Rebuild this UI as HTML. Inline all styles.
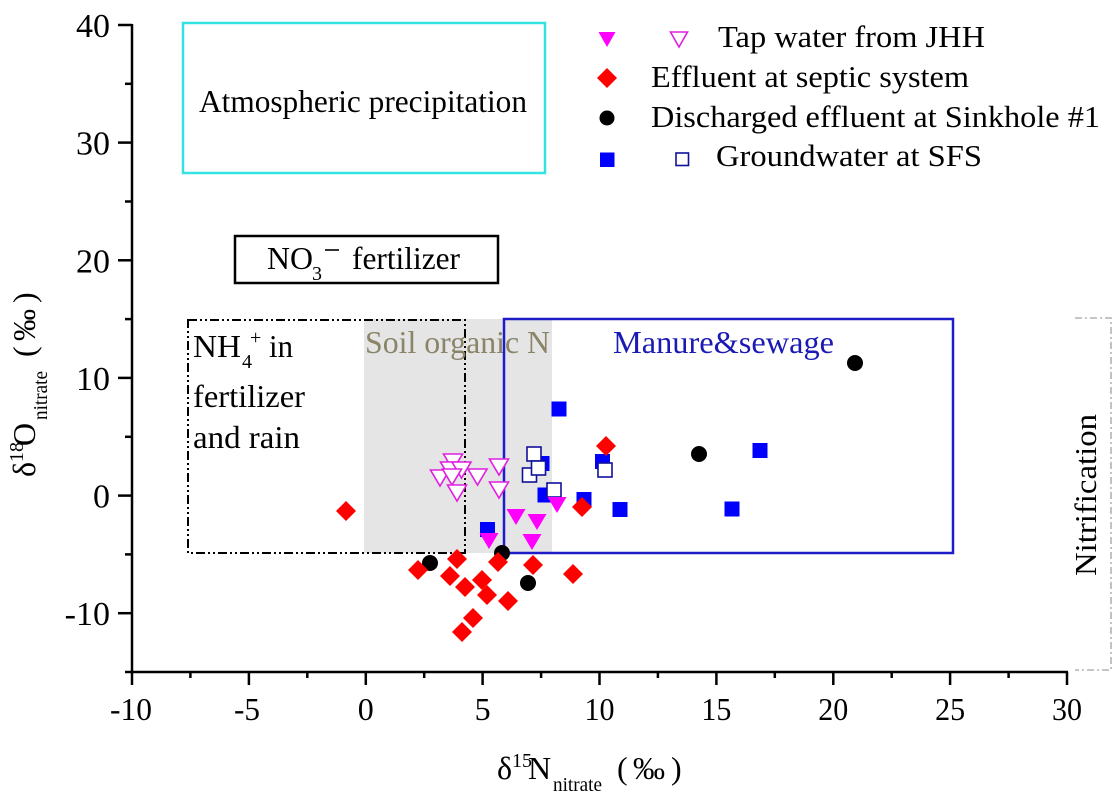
<!DOCTYPE html>
<html>
<head>
<meta charset="utf-8">
<style>
html,body{margin:0;padding:0;background:#fff;}
svg{display:block;}
text{font-family:"Liberation Serif","Noto Serif CJK SC",serif;fill:#000;}
</style>
</head>
<body>
<svg width="1119" height="798" viewBox="0 0 1119 798" xmlns="http://www.w3.org/2000/svg">
<rect x="0" y="0" width="1119" height="798" fill="#fff"/>

<!-- Soil organic N gray region -->
<rect x="364" y="319" width="188" height="234" fill="#e5e5e5"/>

<!-- Atmospheric precipitation box -->
<rect x="183" y="23" width="362" height="150" fill="none" stroke="#33e3e3" stroke-width="2.5"/>
<text x="199" y="112" font-size="32" textLength="328" lengthAdjust="spacingAndGlyphs">Atmospheric precipitation</text>

<!-- NO3- fertilizer box -->
<rect x="235" y="236" width="263" height="47" fill="none" stroke="#000" stroke-width="2.5"/>
<text x="267" y="269" font-size="32" textLength="46" lengthAdjust="spacingAndGlyphs">NO</text>
<text x="312" y="280" font-size="20">3</text>
<line x1="325" y1="250" x2="339" y2="250" stroke="#000" stroke-width="1.6"/>
<text x="352" y="269" font-size="32" textLength="108" lengthAdjust="spacingAndGlyphs">fertilizer</text>

<!-- NH4+ box -->
<rect x="188" y="320" width="277" height="233" fill="none" stroke="#000" stroke-width="2" stroke-dasharray="9 3 2 3 2 3"/>
<text x="193" y="357" font-size="32" textLength="48" lengthAdjust="spacingAndGlyphs">NH</text>
<text x="242" y="368" font-size="20">4</text>
<text x="250" y="344" font-size="20">+</text>
<text x="269" y="357" font-size="32" textLength="24" lengthAdjust="spacingAndGlyphs">in</text>
<text x="193" y="407" font-size="32" textLength="112" lengthAdjust="spacingAndGlyphs">fertilizer</text>
<text x="193" y="448" font-size="32" textLength="107" lengthAdjust="spacingAndGlyphs">and rain</text>

<!-- Soil organic N text -->
<text x="365" y="353" font-size="32" style="fill:#8a8468" textLength="185" lengthAdjust="spacingAndGlyphs">Soil organic N</text>

<!-- Manure & sewage box -->
<rect x="504" y="319" width="449" height="234" fill="none" stroke="#1c1cc8" stroke-width="2.5"/>
<text x="613" y="353" font-size="32" style="fill:#1a1ab4" textLength="221" lengthAdjust="spacingAndGlyphs">Manure&amp;sewage</text>

<!-- Nitrification box -->
<path d="M1075,318 H1111 V670 H1075" fill="none" stroke="#b3b3b3" stroke-width="1.6" stroke-dasharray="7 3 2 3"/>
<g transform="translate(1096,576) rotate(-90)">
<text x="0" y="0" font-size="31" textLength="162" lengthAdjust="spacingAndGlyphs">Nitrification</text>
</g>

<!-- Axes -->
<line x1="132" y1="24" x2="132" y2="673" stroke="#000" stroke-width="2.5"/>
<line x1="131" y1="672" x2="1068" y2="672" stroke="#000" stroke-width="2.5"/>
<g stroke="#000" stroke-width="2.5">
<line x1="118" y1="25" x2="132" y2="25"/>
<line x1="118" y1="142.6" x2="132" y2="142.6"/>
<line x1="118" y1="260.3" x2="132" y2="260.3"/>
<line x1="118" y1="377.9" x2="132" y2="377.9"/>
<line x1="118" y1="495.6" x2="132" y2="495.6"/>
<line x1="118" y1="613.2" x2="132" y2="613.2"/>
<line x1="125" y1="83.8" x2="132" y2="83.8"/>
<line x1="125" y1="201.5" x2="132" y2="201.5"/>
<line x1="125" y1="319.1" x2="132" y2="319.1"/>
<line x1="125" y1="436.8" x2="132" y2="436.8"/>
<line x1="125" y1="554.4" x2="132" y2="554.4"/>
<line x1="125" y1="672" x2="132" y2="672"/>
<line x1="132" y1="672" x2="132" y2="685"/>
<line x1="248.9" y1="672" x2="248.9" y2="685"/>
<line x1="365.8" y1="672" x2="365.8" y2="685"/>
<line x1="482.6" y1="672" x2="482.6" y2="685"/>
<line x1="599.5" y1="672" x2="599.5" y2="685"/>
<line x1="716.4" y1="672" x2="716.4" y2="685"/>
<line x1="833.3" y1="672" x2="833.3" y2="685"/>
<line x1="950.1" y1="672" x2="950.1" y2="685"/>
<line x1="1067" y1="672" x2="1067" y2="685"/>
<line x1="190.4" y1="672" x2="190.4" y2="678"/>
<line x1="307.3" y1="672" x2="307.3" y2="678"/>
<line x1="424.2" y1="672" x2="424.2" y2="678"/>
<line x1="541.1" y1="672" x2="541.1" y2="678"/>
<line x1="657.9" y1="672" x2="657.9" y2="678"/>
<line x1="774.8" y1="672" x2="774.8" y2="678"/>
<line x1="891.7" y1="672" x2="891.7" y2="678"/>
<line x1="1008.6" y1="672" x2="1008.6" y2="678"/>
</g>

<!-- y tick labels -->
<g font-size="34" text-anchor="end">
<text x="110" y="37">40</text>
<text x="110" y="154.6">30</text>
<text x="110" y="272.3">20</text>
<text x="110" y="389.9">10</text>
<text x="110" y="507.6">0</text>
<text x="110" y="625.2">-10</text>
</g>

<!-- x tick labels -->
<g font-size="32" text-anchor="middle">
<text x="131" y="720" textLength="42" lengthAdjust="spacingAndGlyphs">-10</text>
<text x="247" y="720" textLength="26" lengthAdjust="spacingAndGlyphs">-5</text>
<text x="365.8" y="720">0</text>
<text x="482.6" y="720">5</text>
<text x="599.5" y="720" textLength="30" lengthAdjust="spacingAndGlyphs">10</text>
<text x="716.4" y="720" textLength="30" lengthAdjust="spacingAndGlyphs">15</text>
<text x="833.3" y="720" textLength="30" lengthAdjust="spacingAndGlyphs">20</text>
<text x="950.1" y="720" textLength="30" lengthAdjust="spacingAndGlyphs">25</text>
<text x="1067" y="720" textLength="30" lengthAdjust="spacingAndGlyphs">30</text>
</g>

<!-- x axis title -->
<text x="497" y="779" font-size="32">δ</text>
<text x="512" y="767" font-size="20">15</text>
<text x="528" y="779" font-size="32">N</text>
<text x="553" y="791" font-size="20" textLength="49" lengthAdjust="spacingAndGlyphs">nitrate</text>
<text x="617" y="779" font-size="32">(</text>
<text x="633" y="779" font-size="32">‰</text>
<text x="671" y="779" font-size="32">)</text>

<!-- y axis title -->
<g transform="translate(35,480) rotate(-90)">
<text x="3" y="0" font-size="32">δ</text>
<text x="18" y="-12" font-size="20">18</text>
<text x="34" y="0" font-size="32">O</text>
<text x="60" y="12" font-size="20" textLength="49" lengthAdjust="spacingAndGlyphs">nitrate</text>
<text x="123" y="0" font-size="32">(</text>
<text x="139" y="0" font-size="32">‰</text>
<text x="177" y="0" font-size="32">)</text>
</g>

<!-- blue filled squares -->
<g fill="#0000ff">
<rect x="551.5" y="401.5" width="15" height="15"/>
<rect x="595" y="454" width="15" height="15"/>
<rect x="534.5" y="456" width="15" height="15"/>
<rect x="537.5" y="487.5" width="15" height="15"/>
<rect x="576.5" y="492" width="15" height="15"/>
<rect x="612.5" y="502" width="15" height="15"/>
<rect x="480" y="522" width="15" height="15"/>
<rect x="724.5" y="501.5" width="15" height="15"/>
<rect x="752.5" y="443" width="15" height="15"/>
</g>
<!-- blue hollow squares -->
<g fill="#fff" stroke="#10109a" stroke-width="1.6">
<rect x="527" y="447" width="14" height="14"/>
<rect x="522.5" y="468" width="14" height="14"/>
<rect x="531.5" y="461" width="14" height="14"/>
<rect x="547" y="483" width="14" height="14"/>
<rect x="598" y="463" width="14" height="14"/>
</g>

<!-- magenta hollow triangles -->
<g fill="#fff" stroke="#e020e0" stroke-width="1.6">
<polygon points="443.5,454 462.5,454 453,470"/>
<polygon points="440.5,462 459.5,462 450,478"/>
<polygon points="452,462 471,462 461.5,478"/>
<polygon points="430.5,470 449.5,470 440,486"/>
<polygon points="442.5,469 461.5,469 452,485"/>
<polygon points="468,469 487,469 477.5,485"/>
<polygon points="489.5,459 508.5,459 499,475"/>
<polygon points="489.5,482 508.5,482 499,498"/>
<polygon points="447.5,485 466.5,485 457,501"/>
</g>
<!-- magenta filled triangles -->
<g fill="#ff00ff">
<polygon points="506.5,509 525.5,509 516,525"/>
<polygon points="527.5,514 546.5,514 537,530"/>
<polygon points="547.5,497 566.5,497 557,513"/>
<polygon points="479.5,533 498.5,533 489,549"/>
<polygon points="522.5,534 541.5,534 532,550"/>
</g>

<!-- black circles -->
<g fill="#000">
<circle cx="430" cy="563" r="8"/>
<circle cx="502" cy="553" r="8"/>
<circle cx="528" cy="583" r="8"/>
<circle cx="699" cy="454" r="8"/>
<circle cx="855" cy="363" r="8"/>
</g>

<!-- red diamonds -->
<g fill="#ff0000">
<polygon points="346,501 356,511 346,521 336,511"/>
<polygon points="418,560 428,570 418,580 408,570"/>
<polygon points="450,566 460,576 450,586 440,576"/>
<polygon points="457,549 467,559 457,569 447,559"/>
<polygon points="465,577 475,587 465,597 455,587"/>
<polygon points="482,570 492,580 482,590 472,580"/>
<polygon points="487,585 497,595 487,605 477,595"/>
<polygon points="498,552 508,562 498,572 488,562"/>
<polygon points="508,591 518,601 508,611 498,601"/>
<polygon points="533,555 543,565 533,575 523,565"/>
<polygon points="573,564 583,574 573,584 563,574"/>
<polygon points="473,608 483,618 473,628 463,618"/>
<polygon points="462,622 472,632 462,642 452,632"/>
<polygon points="582,497 592,507 582,517 572,507"/>
<polygon points="606,436 616,446 606,456 596,446"/>
</g>

<!-- Legend -->
<polygon points="598.5,32 615.5,32 607,47" fill="#ff00ff"/>
<polygon points="670.5,32 687.5,32 679,47" fill="#fff" stroke="#e020e0" stroke-width="1.6"/>
<text x="718" y="47" font-size="31" textLength="267" lengthAdjust="spacingAndGlyphs">Tap water from JHH</text>

<polygon points="607,68 617,78 607,88 597,78" fill="#ff0000"/>
<text x="651" y="87" font-size="31" textLength="318" lengthAdjust="spacingAndGlyphs">Effluent at septic system</text>

<circle cx="607" cy="118" r="7.5" fill="#000"/>
<text x="651" y="127" font-size="31" textLength="449" lengthAdjust="spacingAndGlyphs">Discharged effluent at Sinkhole #1</text>

<rect x="600" y="152.5" width="14.5" height="14.5" fill="#0000ff"/>
<rect x="676" y="153" width="12.5" height="12.5" fill="#fff" stroke="#10109a" stroke-width="1.6"/>
<text x="716" y="166" font-size="31" textLength="266" lengthAdjust="spacingAndGlyphs">Groundwater at SFS</text>

</svg>
</body>
</html>
